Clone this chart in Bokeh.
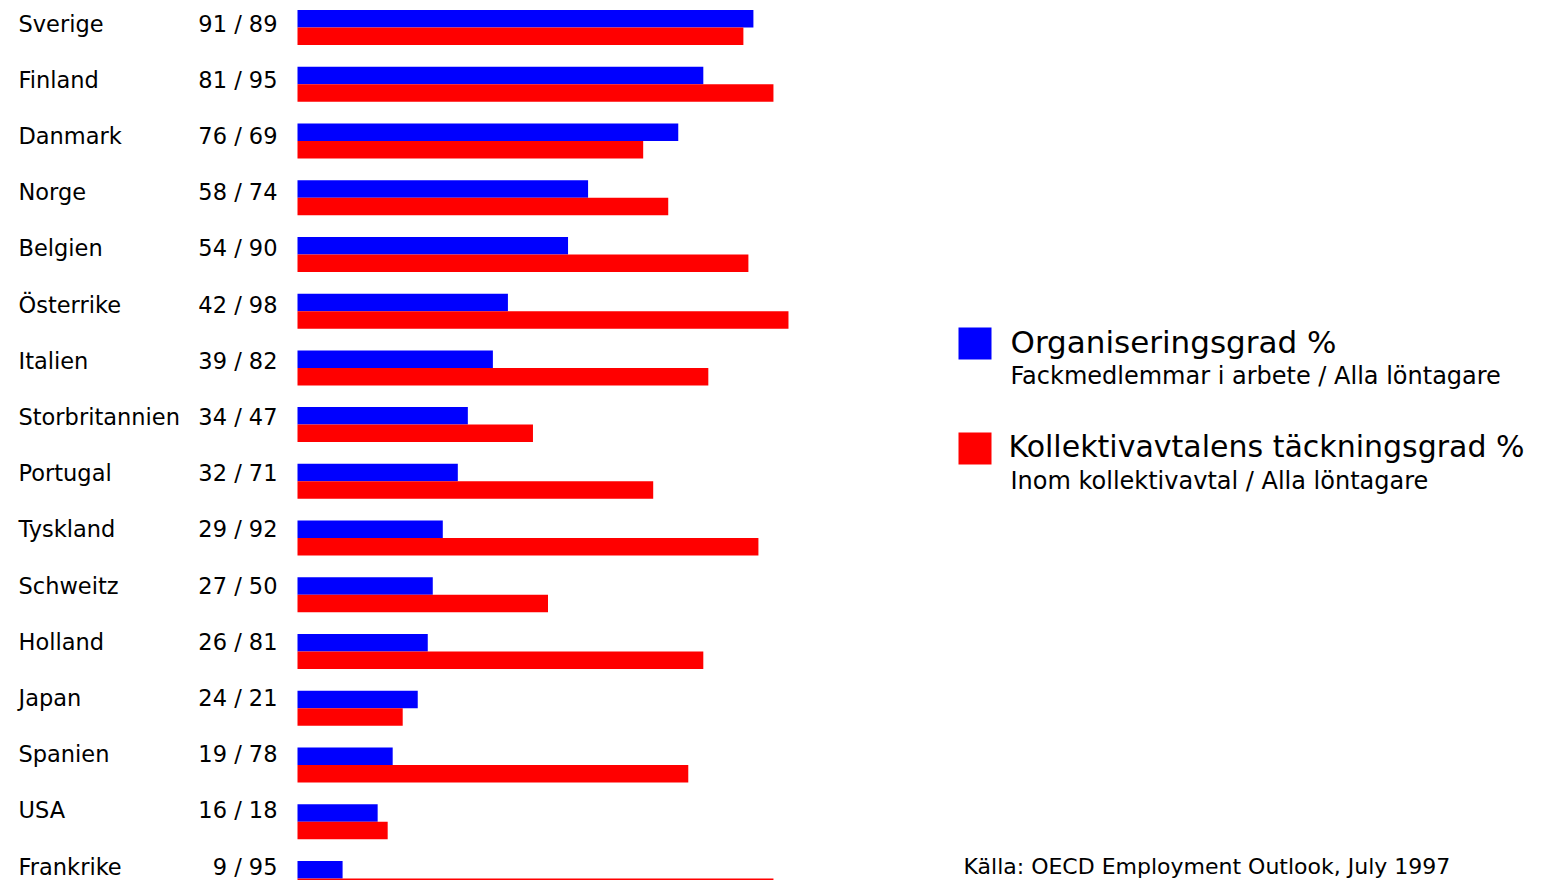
from bokeh.plotting import figure
from bokeh.models import ColumnDataSource, Range1d, Label, BoxAnnotation
from bokeh.core.properties import value
from bokeh.embed import file_html
from bokeh.resources import INLINE

countries = ["Sverige", "Finland", "Danmark", "Norge", "Belgien", "Österrike", "Italien",
             "Storbritannien", "Portugal", "Tyskland", "Schweitz", "Holland", "Japan",
             "Spanien", "USA", "Frankrike"]
organisering = [91, 81, 76, 58, 54, 42, 39, 34, 32, 29, 27, 26, 24, 19, 16, 9]
tackning = [89, 95, 69, 74, 90, 98, 82, 47, 71, 92, 50, 81, 21, 78, 18, 95]

FONT = "DejaVu Sans"
W, H = 1536, 880
PX_X = 5.01       # px per unit
X0 = 297          # px of value 0
ROW = 56.73       # px per row
Y0 = 27           # px of first row boundary
BAR = 17.5 / ROW

idx = list(range(len(countries)))
lab_y = [i * (56.2 / ROW) - 4 / ROW for i in idx]
vals = [f"{a} / {b}" for a, b in zip(organisering, tackning)]

src = ColumnDataSource(dict(y=idx, ly=lab_y, c=countries, v=vals, org=organisering, tack=tackning,
                            yb=[i - BAR / 2 for i in idx], yr=[i + BAR / 2 for i in idx]))

p = figure(width=W, height=H, output_backend="svg", toolbar_location=None,
           x_range=Range1d(-X0 / PX_X, (W - X0) / PX_X),
           y_range=Range1d((H - Y0) / ROW, -Y0 / ROW),
           min_border=0, min_border_left=0, min_border_right=0, min_border_top=0, min_border_bottom=0)
p.axis.visible = False
p.grid.visible = False
p.outline_line_color = None
p.background_fill_color = "white"

p.hbar(y="yb", left=0, right="org", height=BAR, source=src, fill_color="#0000FF", line_color=None)
p.hbar(y="yr", left=0, right="tack", height=BAR, source=src, fill_color="#FF0000", line_color=None)

p.text(x=0, y="ly", text="c", source=src, x_offset=-279, text_align="left", text_baseline="middle",
       text_font=value(FONT), text_font_size="22.5px", text_color="black")
p.text(x=0, y="ly", text="v", source=src, x_offset=-20, text_align="right", text_baseline="middle",
       text_font=value(FONT), text_font_size="22.5px", text_color="black")

# legend
p.add_layout(BoxAnnotation(left=958, right=991, top=H - 327, bottom=H - 359,
                           left_units="screen", right_units="screen", top_units="screen", bottom_units="screen",
                           fill_color="#0000FF", fill_alpha=1, line_color=None))
p.add_layout(BoxAnnotation(left=958, right=991, top=H - 432, bottom=H - 464,
                           left_units="screen", right_units="screen", top_units="screen", bottom_units="screen",
                           fill_color="#FF0000", fill_alpha=1, line_color=None))

def lab(text, x, y, size):
    p.add_layout(Label(x=x, y=H - y, x_units="screen", y_units="screen", text=text,
                       text_font=FONT, text_font_size=size, text_color="black",
                       text_baseline="alphabetic", text_align="left"))

lab("Organiseringsgrad %", 1010, 341, "31px")
lab("Fackmedlemmar i arbete / Alla löntagare", 1010, 375, "24px")
lab("Kollektivavtalens täckningsgrad %", 1008, 446, "30px")
lab("Inom kollektivavtal / Alla löntagare", 1010, 480, "24px")
lab("Källa: OECD Employment Outlook, July 1997", 963, 866, "22px")

open("out.html", "w").write(file_html(p, INLINE))
